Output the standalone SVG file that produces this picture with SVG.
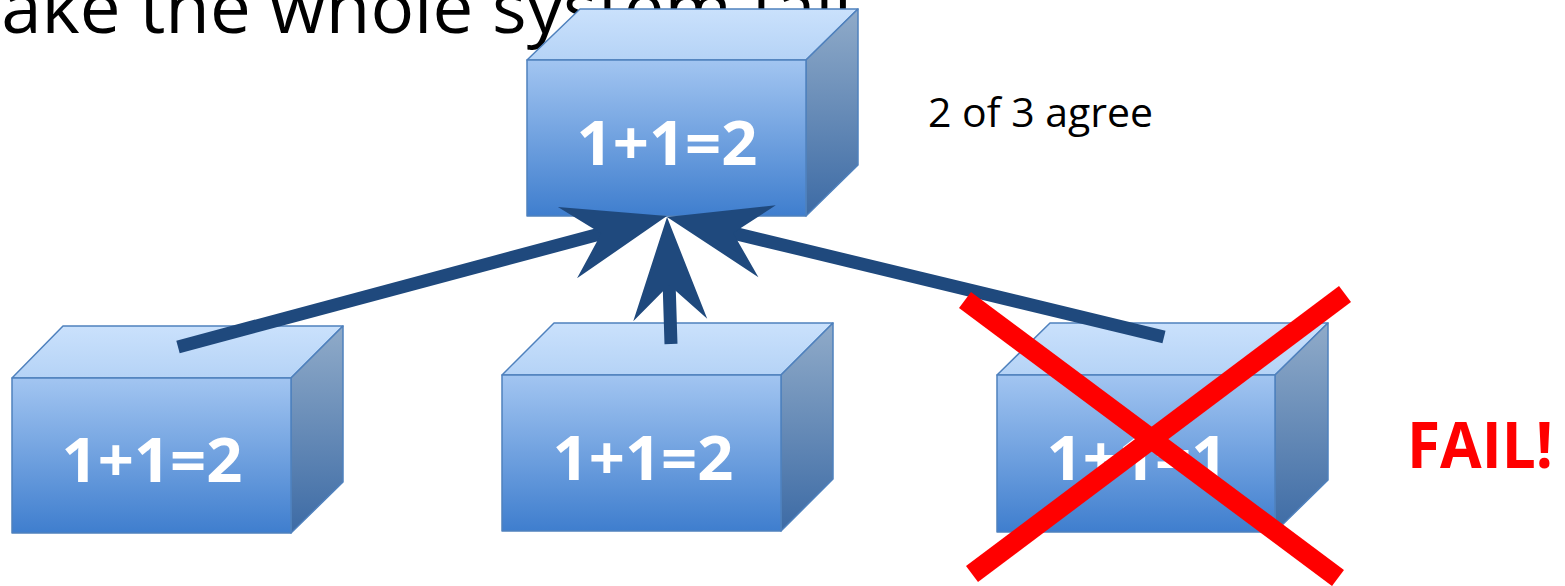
<svg xmlns="http://www.w3.org/2000/svg" width="1565" height="586" viewBox="0 0 1565 586">
<defs>
<linearGradient id="gFront" x1="0" y1="0" x2="0" y2="1"><stop offset="0" stop-color="#A2C5F1"/><stop offset="1" stop-color="#3F7ECE"/></linearGradient>
<linearGradient id="gTop" x1="0" y1="0" x2="0" y2="1"><stop offset="0" stop-color="#CAE1FC"/><stop offset="1" stop-color="#B5D3F6"/></linearGradient>
<linearGradient id="gSide" x1="0" y1="0" x2="0" y2="1"><stop offset="0" stop-color="#90ABC9"/><stop offset="1" stop-color="#3D6BA5"/></linearGradient>
<marker id="stealth" markerUnits="userSpaceOnUse" orient="auto" refX="0" refY="0" markerWidth="200" markerHeight="200" viewBox="-100 -100 200 200" overflow="visible">
<path d="M60,0 L-43,-37 L-8,0 L-43,37 Z" fill="#1F497D"/>
</marker>
</defs>
<style>
.front{fill:url(#gFront);stroke:#4F81BD;stroke-width:1.5;stroke-linejoin:round}
.top{fill:url(#gTop);stroke:#4F81BD;stroke-width:1.5;stroke-linejoin:round}
.side{fill:url(#gSide);stroke:#4F81BD;stroke-width:1.5;stroke-linejoin:round}
.lbl{font-family:"Open Sans","Liberation Sans",sans-serif;font-weight:bold;font-size:60px;fill:#FFFFFF;text-anchor:middle}
.conn{stroke:#1F497D;stroke-width:13;fill:none;marker-end:url(#stealth)}
.cross{stroke:#FF0000;stroke-width:20;fill:none}
</style>
<text id="title" x="-66" y="33" font-family="'Open Sans','Liberation Sans',sans-serif" font-size="71" fill="#000000" textLength="918" lengthAdjust="spacingAndGlyphs">make the whole system fail</text>
<g id="box-top">
<polygon class="top" points="527,60 580,9 858,9 806,60"/>
<polygon class="side" points="806,60 858,9 858,165 806,216"/>
<rect class="front" x="527" y="60" width="279" height="156"/>
<text class="lbl" x="667" y="165" textLength="181" lengthAdjust="spacingAndGlyphs">1+1=2</text>
</g>
<g id="box-left">
<polygon class="top" points="12,378 63,326 343,326 291,378"/>
<polygon class="side" points="291,378 343,326 343,482 291,533"/>
<rect class="front" x="12" y="378" width="279" height="155"/>
<text class="lbl" x="152" y="482" textLength="181" lengthAdjust="spacingAndGlyphs">1+1=2</text>
</g>
<g id="box-mid">
<polygon class="top" points="502,375 554,323 833,323 781,375"/>
<polygon class="side" points="781,375 833,323 833,479 781,531"/>
<rect class="front" x="502" y="375" width="279" height="156"/>
<text class="lbl" x="643" y="480" textLength="181" lengthAdjust="spacingAndGlyphs">1+1=2</text>
</g>
<g id="box-right">
<polygon class="top" points="997,375 1050,323 1328,323 1275,375"/>
<polygon class="side" points="1275,375 1328,323 1328,480 1275,532"/>
<rect class="front" x="997" y="375" width="278" height="157"/>
<text class="lbl" x="1137" y="480" textLength="181" lengthAdjust="spacingAndGlyphs">1+1=1</text>
</g>
<g id="connectors">
<line class="conn" x1="178" y1="347" x2="609" y2="231.5"/>
<line class="conn" x1="671" y1="344" x2="668.9" y2="277"/>
<line class="conn" x1="1164" y1="337" x2="725.3" y2="231.1"/>
</g>
<g id="agree-note">
<text x="928" y="127" font-family="'Open Sans','Liberation Sans',sans-serif" font-size="40" fill="#000000" textLength="225" lengthAdjust="spacingAndGlyphs">2 of 3 agree</text>
</g>
<g id="fail-mark">
<line class="cross" x1="965" y1="300" x2="1338" y2="578"/>
<line class="cross" x1="1345" y1="294" x2="972" y2="574"/>
<text x="1407" y="468" font-family="'Open Sans','Liberation Sans',sans-serif" font-weight="bold" font-size="64" fill="#FF0000" textLength="146" lengthAdjust="spacingAndGlyphs">FAIL!</text>
</g>
</svg>
